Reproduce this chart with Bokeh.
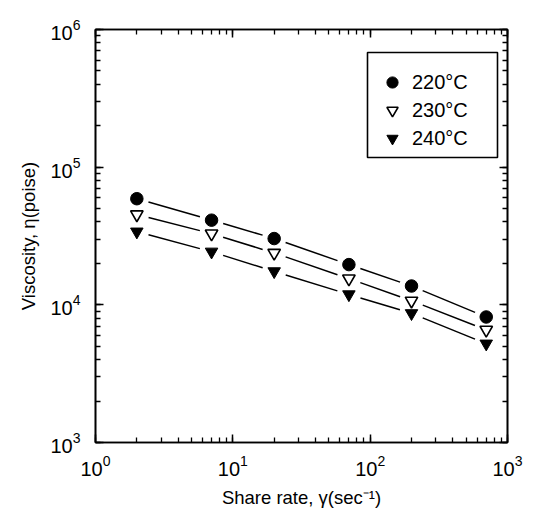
import numpy as np
from bokeh.plotting import figure
from bokeh.models import LogAxis, LogTicker, Legend, LegendItem, CustomJSTickFormatter, Range1d, BoxAnnotation
from bokeh.embed import file_html
from bokeh.resources import INLINE

# data
shear_rate = [2, 7, 20, 70, 200, 700]
visc_220 = [59000, 41200, 30300, 19600, 13700, 8160]
visc_230 = [45300, 32900, 23800, 15500, 10700, 6580]
visc_240 = [34000, 24300, 17500, 11900, 8680, 5220]
labels = ["220°C", "230°C", "240°C"]

FONT = "Liberation Sans"
FL, FR, FT, FB = 95, 27, 29, 83   # borders around the frame
W, H = 534, 525

p = figure(width=W, height=H, x_axis_type="log", y_axis_type="log",
           x_range=Range1d(1, 1000), y_range=Range1d(1000, 1e6),
           output_backend="svg", toolbar_location=None,
           min_border_left=FL, min_border_right=FR, min_border_top=FT, min_border_bottom=FB)
p.grid.visible = False
p.outline_line_color = "black"
p.outline_line_width = 1.6
p.background_fill_color = "white"
p.border_fill_color = "white"

def style_axis(ax):
    ax.ticker = LogTicker(num_minor_ticks=10)
    ax.axis_line_color = "black"
    ax.axis_line_width = 1.6
    ax.major_tick_in = 8
    ax.major_tick_out = 0
    ax.minor_tick_in = 5
    ax.minor_tick_out = 0
    ax.major_tick_line_color = "black"
    ax.minor_tick_line_color = "black"
    ax.major_tick_line_width = 1.5
    ax.minor_tick_line_width = 1.3
    ax.major_label_text_font = FONT
    ax.major_label_text_font_size = "20px"
    ax.major_label_text_color = "black"
    ax.axis_label_text_font = FONT
    ax.axis_label_text_font_size = "18.5px"
    ax.axis_label_text_font_style = "normal"
    ax.axis_label_text_color = "black"

for ax in p.xaxis + p.yaxis:
    style_axis(ax)
p.xaxis.axis_label = "Share rate, γ(sec⁻¹)"
p.yaxis.axis_label = "Viscosity, η(poise)"
p.xaxis.major_label_standoff = 12
p.yaxis.major_label_standoff = 15
p.xaxis.axis_label_standoff = 8
p.yaxis.axis_label_standoff = 8

for loc in ("right", "above"):
    ax = LogAxis()
    style_axis(ax)
    ax.formatter = CustomJSTickFormatter(code="return ''")
    ax.major_label_standoff = 0
    p.add_layout(ax, loc)

# connecting lines with gaps around markers
gap = 0.088  # decades
def gapped_segments(xs, ys):
    lx = np.log10(xs); ly = np.log10(ys)
    x0, y0, x1, y1 = [], [], [], []
    for i in range(len(lx) - 1):
        dx = lx[i+1] - lx[i]; dy = ly[i+1] - ly[i]
        L = np.hypot(dx, dy); f = gap / L
        x0.append(10 ** (lx[i] + f * dx)); y0.append(10 ** (ly[i] + f * dy))
        x1.append(10 ** (lx[i+1] - f * dx)); y1.append(10 ** (ly[i+1] - f * dy))
    return x0, y0, x1, y1

for ys in (visc_220, visc_230, visc_240):
    a, b, c, d = gapped_segments(shear_rate, ys)
    p.segment(a, b, c, d, line_color="black", line_width=1.5)

r1 = p.scatter(shear_rate, visc_220, marker="circle", size=12.5, fill_color="black", line_color="black")
r2 = p.scatter(shear_rate, visc_230, marker="inverted_triangle", size=12.5, fill_color="white", line_color="black", line_width=1.6)
r3 = p.scatter(shear_rate, visc_240, marker="inverted_triangle", size=12.5, fill_color="black", line_color="black")

# legend frame (screen units relative to the plot frame, y from frame bottom)
frame_bottom = H - FB
box = BoxAnnotation(left=367 - FL, right=497 - FL, top=frame_bottom - 52, bottom=frame_bottom - 157,
                    left_units="screen", right_units="screen", top_units="screen", bottom_units="screen",
                    fill_color="white", fill_alpha=1, line_color="black", line_alpha=1, line_width=1.6,
                    level="annotation")
p.add_layout(box)

legend = Legend(items=[LegendItem(label=labels[0], renderers=[r1]),
                       LegendItem(label=labels[1], renderers=[r2]),
                       LegendItem(label=labels[2], renderers=[r3])],
                location=(367 - FL + 10, frame_bottom - 152))
legend.glyph_width = 30
legend.glyph_height = 28
legend.spacing = 0
legend.padding = 10
legend.margin = 0
legend.label_standoff = 5
legend.label_width = 74
legend.label_height = 28
legend.label_text_font = FONT
legend.label_text_font_size = "20px"
legend.label_text_color = "black"
legend.border_line_color = None
legend.background_fill_alpha = 0
p.add_layout(legend, "center")

open("out.html", "w").write(file_html(p, INLINE))
